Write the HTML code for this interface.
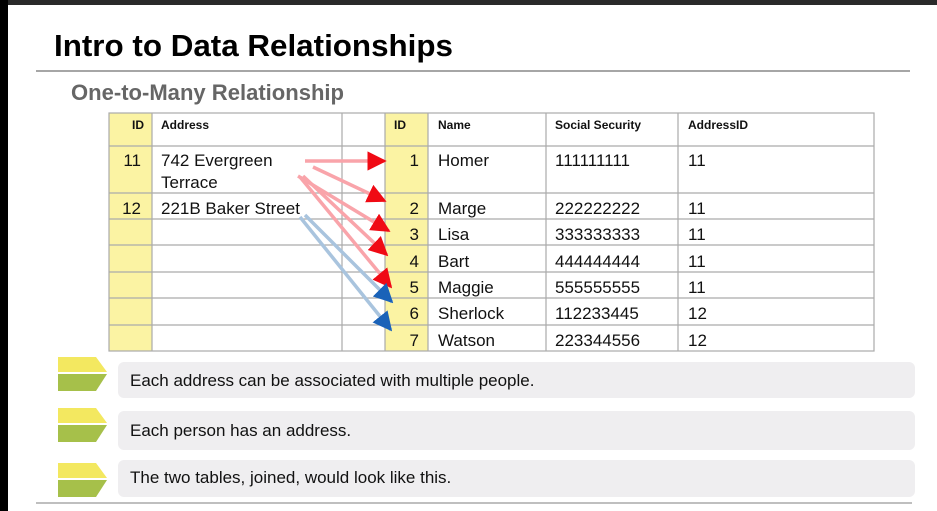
<!DOCTYPE html>
<html><head><meta charset="utf-8"><style>
html,body{margin:0;padding:0;width:937px;height:511px;overflow:hidden;background:#fff}
svg{display:block}
text{font-family:"Liberation Sans",Arial,sans-serif}
</style></head><body>
<svg width="937" height="511" viewBox="0 0 937 511" xmlns="http://www.w3.org/2000/svg">
<defs>
<marker id="ar" markerWidth="5.5" markerHeight="5.5" refX="5" refY="2.75" orient="auto" markerUnits="strokeWidth"><path d="M0,0 L5.5,2.75 L0,5.5 z" fill="#f00a14"/></marker>
<marker id="ab" markerWidth="5.5" markerHeight="5.5" refX="5" refY="2.75" orient="auto" markerUnits="strokeWidth"><path d="M0,0 L5.5,2.75 L0,5.5 z" fill="#1a62b8"/></marker>
</defs>
<rect x="0" y="0" width="937" height="5" fill="#2a2a2a"/>
<rect x="0" y="0" width="8" height="511" fill="#000"/>
<text x="54" y="56" font-size="31" font-weight="bold" fill="#000" textLength="399" lengthAdjust="spacingAndGlyphs">Intro to Data Relationships</text>
<line x1="36" y1="71" x2="910" y2="71" stroke="#888" stroke-width="1.5"/>
<text x="71" y="100" font-size="22" font-weight="bold" fill="#666" textLength="273" lengthAdjust="spacingAndGlyphs">One-to-Many Relationship</text>
<rect x="109" y="113" width="43" height="238" fill="#fbf3a3"/>
<rect x="385" y="113" width="43" height="238" fill="#fbf3a3"/>
<g stroke="#aaa" stroke-width="1.2" fill="none">
<rect x="109" y="113" width="765" height="238"/>
<line x1="152" y1="113" x2="152" y2="351"/><line x1="342" y1="113" x2="342" y2="351"/>
<line x1="385" y1="113" x2="385" y2="351"/><line x1="428" y1="113" x2="428" y2="351"/>
<line x1="546" y1="113" x2="546" y2="351"/><line x1="678" y1="113" x2="678" y2="351"/>
<line x1="109" y1="146" x2="874" y2="146"/><line x1="109" y1="193" x2="874" y2="193"/>
<line x1="109" y1="219" x2="874" y2="219"/><line x1="109" y1="245" x2="874" y2="245"/>
<line x1="109" y1="272" x2="874" y2="272"/><line x1="109" y1="298" x2="874" y2="298"/>
<line x1="109" y1="325" x2="874" y2="325"/>
</g>
<g font-size="12" font-weight="bold" fill="#111">
<text x="132" y="129">ID</text><text x="161" y="129">Address</text>
<text x="394" y="129">ID</text><text x="438" y="129">Name</text>
<text x="555" y="129">Social Security</text><text x="688" y="129">AddressID</text>
</g>
<g font-size="17" fill="#111">
<text x="141" y="166" text-anchor="end">11</text><text x="161" y="166">742 Evergreen</text><text x="161" y="188">Terrace</text>
<text x="141" y="214" text-anchor="end">12</text><text x="161" y="214">221B Baker Street</text>
<g text-anchor="end">
<text x="419" y="166">1</text><text x="419" y="214">2</text><text x="419" y="240">3</text><text x="419" y="267">4</text><text x="419" y="293">5</text><text x="419" y="319">6</text><text x="419" y="346">7</text>
</g>
<text x="438" y="166">Homer</text><text x="438" y="214">Marge</text><text x="438" y="240">Lisa</text><text x="438" y="267">Bart</text><text x="438" y="293">Maggie</text><text x="438" y="319">Sherlock</text><text x="438" y="346">Watson</text>
<text x="555" y="166">111111111</text><text x="555" y="214">222222222</text><text x="555" y="240">333333333</text><text x="555" y="267">444444444</text><text x="555" y="293">555555555</text><text x="555" y="319">112233445</text><text x="555" y="346">223344556</text>
<text x="688" y="166">11</text><text x="688" y="214">11</text><text x="688" y="240">11</text><text x="688" y="267">11</text><text x="688" y="293">11</text><text x="688" y="319">12</text><text x="688" y="346">12</text>
</g>
<g stroke-width="3.5" fill="none">
<g stroke="#f9a4aa">
<line x1="305" y1="161" x2="385" y2="161" marker-end="url(#ar)"/>
<line x1="313" y1="167" x2="385" y2="201" marker-end="url(#ar)"/>
<line x1="298" y1="176" x2="389" y2="231" marker-end="url(#ar)"/>
<line x1="303" y1="176" x2="387" y2="255" marker-end="url(#ar)"/>
<line x1="300" y1="177" x2="391" y2="287" marker-end="url(#ar)"/>
</g>
<g stroke="#a9c4de">
<line x1="305" y1="215" x2="392" y2="302" marker-end="url(#ab)"/>
<line x1="300" y1="217" x2="391" y2="330" marker-end="url(#ab)"/>
</g>
</g>
<g>
<polygon points="58,357 96,357 107,372 58,372" fill="#f3e860"/><polygon points="58,374 107,374 96,391 58,391" fill="#a6c04a"/>
<polygon points="58,408 96,408 107,423 58,423" fill="#f3e860"/><polygon points="58,425 107,425 96,442 58,442" fill="#a6c04a"/>
<polygon points="58,463 96,463 107,478 58,478" fill="#f3e860"/><polygon points="58,480 107,480 96,497 58,497" fill="#a6c04a"/>
</g>
<rect x="118" y="362" width="797" height="36" rx="6" fill="#efeef0"/>
<rect x="118" y="411" width="797" height="39" rx="6" fill="#efeef0"/>
<rect x="118" y="460" width="797" height="37" rx="6" fill="#efeef0"/>
<g font-size="17" fill="#111">
<text x="130" y="386">Each address can be associated with multiple people.</text>
<text x="130" y="436">Each person has an address.</text>
<text x="130" y="483">The two tables, joined, would look like this.</text>
</g>
<line x1="36" y1="503" x2="912" y2="503" stroke="#aaa" stroke-width="1.5"/>
</svg>
</body></html>
